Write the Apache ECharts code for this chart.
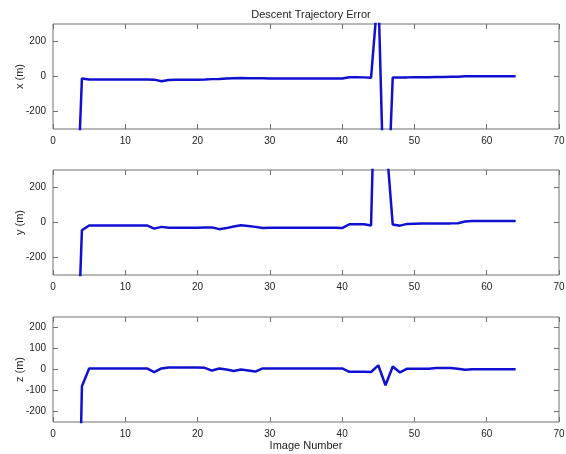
<!DOCTYPE html>
<html><head><meta charset="utf-8">
<script src="https://cdn.jsdelivr.net/npm/echarts@6/dist/echarts.min.js"></script>
<style>html,body{margin:0;padding:0;background:#fff}#c{width:566px;height:454px}</style>
</head><body><div id="c"></div>
<script>
const imageNumbers = [3,4,5,6,7,8,9,10,11,12,13,14,15,16,17,18,19,20,21,22,23,24,25,26,27,28,29,30,31,32,33,34,35,36,37,38,39,40,41,42,43,44,45,46,47,48,49,50,51,52,53,54,55,56,57,58,59,60,61,62,63,64];
const xError = [-1070,-12,-17,-17,-17,-17,-17,-17,-17,-17,-17,-18,-27,-20,-19,-19,-18,-18,-17,-15,-14,-12,-10,-9,-10,-10,-10,-11,-11,-11,-11,-11,-11,-11,-12,-12,-12,-12,-4,-4,-5,-7,500,-1050,-5,-5,-5,-4,-4,-4,-3,-3,-2,-1,2,2,2,2,2,2,2,2];
const yError = [-1200,-44,-17,-17,-17,-17,-17,-17,-17,-17,-17,-35,-25,-30,-30,-30,-30,-30,-29,-28,-38,-32,-23,-16,-20,-25,-32,-30,-30,-30,-30,-30,-30,-30,-30,-30,-30,-32,-10,-10,-10,-17,1580,510,-12,-18,-8,-7,-6,-6,-5,-5,-5,-4,6,8,8,8,8,8,8,8];
const zError = [-1780,-80,5,5,5,5,5,5,5,5,5,-12,5,10,10,10,9,9,8,-5,5,0,-7,0,-5,-10,5,5,5,5,5,5,5,5,5,5,5,5,-11,-11,-11,-12,20,-75,14,-14,4,4,4,4,7,7,7,4,-1,1,1,1,1,1,1,1];
const xTicks = [0,10,20,30,40,50,60,70];
const yTicksXY = [-200,0,200];
const yTicksZ = [-200,-100,0,100,200];
const panelNames = ['x (m)','y (m)','z (m)'];
const titleText = 'Descent Trajectory Error';
const xName = 'Image Number';

const chart = echarts.init(document.getElementById('c'), null, {renderer:'canvas'});
const FONT = 'Liberation Sans, Arial, sans-serif';
const frame = '#707070';
const tops = [24, 170, 317];
const H = 105;
const series = [xError, yError, zError];
const ranges = [[-300,300],[-300,300],[-250,250]];
const yticks = [yTicksXY, yTicksXY, yTicksZ];

const grid = [], xAxis = [], yAxis = [], ser = [];
for (let i = 0; i < 3; i++) {
  grid.push({left:53, right:7, top:tops[i], height:H, show:true, borderColor:frame, borderWidth:1,
    backgroundColor:'transparent', containLabel:false, outerBoundsMode:'none'});
  const tickStyle = {show:true, inside:true, length:5, lineStyle:{color:frame, width:1}};
  xAxis.push({type:'value', gridIndex:i, min:0, max:70, position:'bottom',
    axisLine:{show:false, onZero:false}, splitLine:{show:false},
    axisTick:Object.assign({customValues:xTicks}, tickStyle),
    axisLabel:{customValues:xTicks, color:'#222', fontSize:10, fontFamily:FONT, margin:7},
    name: i===2 ? xName : '', nameLocation:'middle', nameGap:18, nameMoveOverlap:false,
    nameTextStyle:{color:'#222', fontSize:11, fontFamily:FONT}});
  xAxis.push({type:'value', gridIndex:i, min:0, max:70, position:'top',
    axisLine:{show:false, onZero:false}, splitLine:{show:false},
    axisTick:Object.assign({customValues:xTicks}, tickStyle), axisLabel:{show:false}});
  yAxis.push({type:'value', gridIndex:i, min:ranges[i][0], max:ranges[i][1], position:'left',
    axisLine:{show:false, onZero:false}, splitLine:{show:false},
    axisTick:Object.assign({customValues:yticks[i]}, tickStyle),
    axisLabel:{customValues:yticks[i], color:'#222', fontSize:10, fontFamily:FONT, margin:7},
    name:panelNames[i], nameLocation:'middle', nameRotate:90, nameGap:28, nameMoveOverlap:false,
    nameTextStyle:{color:'#222', fontSize:11, fontFamily:FONT}});
  yAxis.push({type:'value', gridIndex:i, min:ranges[i][0], max:ranges[i][1], position:'right',
    axisLine:{show:false, onZero:false}, splitLine:{show:false},
    axisTick:Object.assign({customValues:yticks[i]}, tickStyle), axisLabel:{show:false}});
  ser.push({type:'line', xAxisIndex:2*i, yAxisIndex:2*i, clip:true, symbol:'none', silent:true,
    data: imageNumbers.map((n,k)=>[n, series[i][k]]),
    lineStyle:{color:'#1010d0', width:2.5}});
}

chart.setOption({
  animation:false,
  backgroundColor:'#fff',
  title:{text:titleText, left:306, textAlign:'center', top:4, textStyle:{color:'#222', fontSize:11, fontWeight:'normal', fontFamily:FONT}},
  grid, xAxis, yAxis, series:ser
});
</script></body></html>
